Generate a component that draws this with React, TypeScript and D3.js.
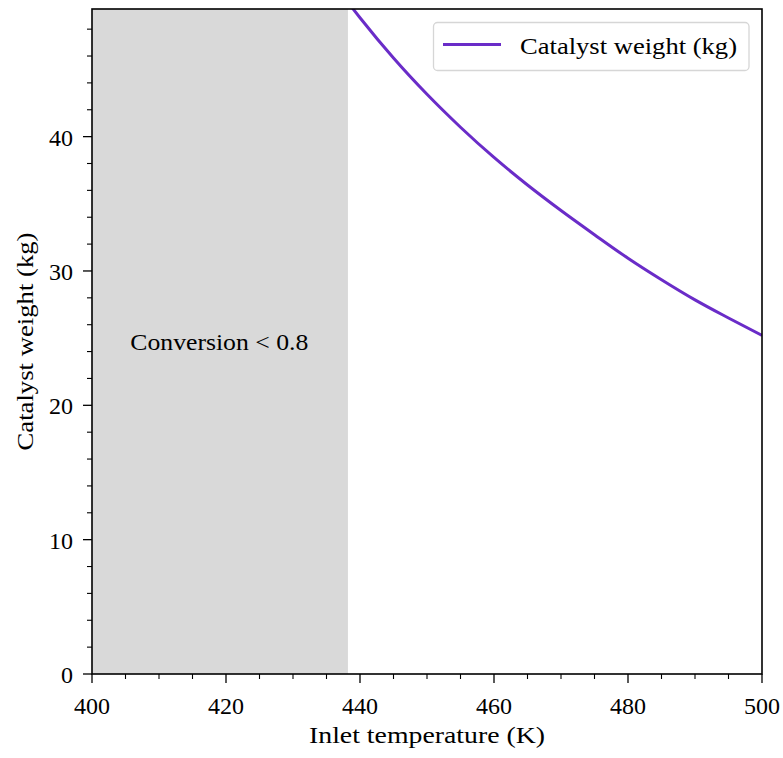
import React from "react";
import * as d3 from "d3";

const temps = [438.2, 440, 445, 450, 455, 460, 465, 470, 475, 480, 485, 490, 495, 500];
const weights = [50.0, 48.85, 45.85, 43.15, 40.7, 38.45, 36.4, 34.5, 32.7, 30.95, 29.35, 27.85, 26.5, 25.2];
const xTicks = [400, 420, 440, 460, 480, 500];
const yTicks = [0, 10, 20, 30, 40];
const shadeRange = [400, 438.2];
const seriesName = "Catalyst weight (kg)";
const shadeLabel = "Conversion < 0.8";
const xLabel = "Inlet temperature (K)";
const yLabel = "Catalyst weight (kg)";

const W = 783, H = 758;
const L = 92, R = 762, T = 9, B = 674;
const FONT = "'Liberation Serif', serif";
const FS = 24;
const PURPLE = "#6a2cc8";

export default function App() {
  const x = d3.scaleLinear().domain([400, 500]).range([L, R]);
  const y = d3.scaleLinear().domain([0, 49.5]).range([B, T]);
  const pts = temps.map((t, i) => [t, weights[i]] as [number, number]);
  const line = d3.line<[number, number]>().x(d => x(d[0])).y(d => y(d[1])).curve(d3.curveMonotoneX);
  const xMinor = d3.range(400, 501, 5).filter(v => !xTicks.includes(v));
  const yMinor = d3.range(0, 49.5, 2).filter(v => !yTicks.includes(v));
  return (
    <svg width={W} height={H} style={{ position: "absolute", left: 0, top: 0, background: "#fff" }} fontFamily={FONT}>
      <defs>
        <clipPath id="plot"><rect x={L} y={T} width={R - L} height={B - T} /></clipPath>
      </defs>
      <rect x={x(shadeRange[0])} y={T} width={x(shadeRange[1]) - x(shadeRange[0])} height={B - T} fill="#d9d9d9" />
      <text x={x(419)} y={350} fontSize={FS} textAnchor="middle" textLength={178} lengthAdjust="spacingAndGlyphs">{shadeLabel}</text>
      <path d={line(pts) || ""} fill="none" stroke={PURPLE} strokeWidth={3} clipPath="url(#plot)" />
      {xTicks.map(v => (
        <g key={"xt" + v}>
          <line x1={x(v)} x2={x(v)} y1={B} y2={B + 9} stroke="#000" strokeWidth={1.3} />
          <text x={x(v)} y={B + 40} fontSize={FS} textAnchor="middle">{v}</text>
        </g>
      ))}
      {xMinor.map(v => <line key={"xm" + v} x1={x(v)} x2={x(v)} y1={B} y2={B + 5} stroke="#000" strokeWidth={1.1} />)}
      {yTicks.map(v => (
        <g key={"yt" + v}>
          <line x1={L - 9} x2={L} y1={y(v)} y2={y(v)} stroke="#000" strokeWidth={1.3} />
          <text x={L - 19} y={y(v) + 9} fontSize={FS} textAnchor="end">{v}</text>
        </g>
      ))}
      {yMinor.map(v => <line key={"ym" + v} x1={L - 5} x2={L} y1={y(v)} y2={y(v)} stroke="#000" strokeWidth={1.1} />)}
      <rect x={L} y={T} width={R - L} height={B - T} fill="none" stroke="#000" strokeWidth={1.6} />
      <text x={(L + R) / 2} y={743} fontSize={FS} textAnchor="middle" textLength={236} lengthAdjust="spacingAndGlyphs">{xLabel}</text>
      <text transform={`translate(33, ${(T + B) / 2}) rotate(-90)`} fontSize={FS} textAnchor="middle" textLength={218} lengthAdjust="spacingAndGlyphs">{yLabel}</text>
      <rect x={433.5} y={22.5} width={315.5} height={48} rx={4} fill="#fff" stroke="#d6d6d6" strokeWidth={1.3} />
      <line x1={443} x2={501} y1={44.5} y2={44.5} stroke={PURPLE} strokeWidth={3} />
      <text x={520} y={54} fontSize={FS} textLength={217} lengthAdjust="spacingAndGlyphs">{seriesName}</text>
    </svg>
  );
}
